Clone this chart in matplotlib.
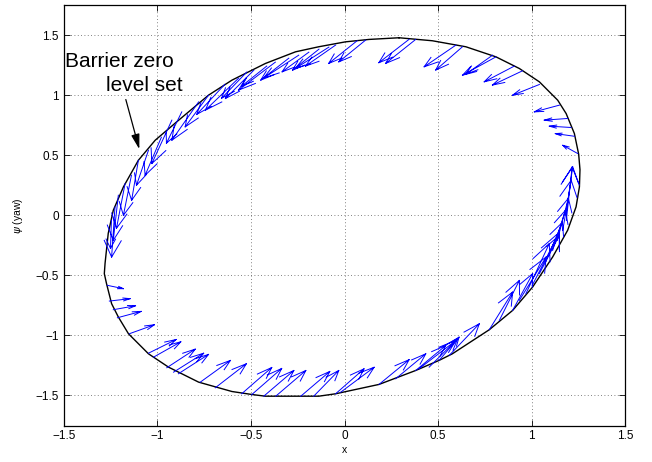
import matplotlib
matplotlib.use("Agg")
import matplotlib.pyplot as plt
import numpy as np

plt.rcParams["font.family"] = ["Liberation Sans", "DejaVu Sans"]

# barrier zero level set (counter-clockwise from the top)
level_x = [0.291, 0.130, 0.005, -0.138, -0.262, -0.423, -0.602, -0.727, -0.888, -1.012,
           -1.102, -1.182, -1.236, -1.263, -1.280, -1.284, -1.272, -1.245, -1.209, -1.155,
           -1.048, -0.941, -0.780, -0.602, -0.495, -0.423, -0.138, -0.048, 0.184, 0.380,
           0.505, 0.576, 0.773, 0.898, 1.005, 1.112, 1.192, 1.237, 1.255, 1.258,
           1.251, 1.228, 1.184, 1.139, 1.041, 0.934, 0.809, 0.648, 0.469, 0.291]
level_y = [1.478, 1.464, 1.444, 1.403, 1.361, 1.264, 1.125, 1.000, 0.790, 0.625,
           0.458, 0.236, 0.042, -0.150, -0.400, -0.486, -0.570, -0.736, -0.847, -0.986,
           -1.153, -1.264, -1.389, -1.467, -1.492, -1.506, -1.506, -1.486, -1.408, -1.292,
           -1.208, -1.153, -0.953, -0.792, -0.597, -0.347, -0.125, 0.070, 0.236, 0.380,
           0.508, 0.681, 0.847, 0.958, 1.111, 1.222, 1.319, 1.403, 1.453, 1.478]

# vector field samples on the boundary
qx = [-1.268, -1.257, -1.236, -1.214, -1.150, -1.048, -1.021, -0.950, -0.914, -0.888,
      -0.771, -0.691, -0.550, -0.497, -0.432, -0.368, -0.234, -0.165, -0.048, -0.021,
      0.184, 0.273, 0.380, 0.398, 0.452, 0.505, 0.559, 0.773, 0.827, 0.898,
      0.934, 0.969, 1.003, 1.041, 1.073, 1.112, 1.137, 1.166, 1.185, 1.184,
      1.246, 1.228, 1.210, 1.192, 1.148, 1.041, 0.951, 0.907, 0.809, 0.791,
      0.630, 0.595, 0.380, 0.344, 0.112, 0.067, -0.048, -0.084, -0.137, -0.191,
      -0.245, -0.298, -0.370, -0.416, -0.485, -0.523, -0.566, -0.640, -0.727, -0.780,
      -0.870, -0.923, -0.979, -1.048, -1.102, -1.139, -1.173, -1.209, -1.227, -1.246]
qy = [-0.583, -0.714, -0.786, -0.853, -0.986, -1.148, -1.181, -1.269, -1.306, -1.319,
      -1.389, -1.436, -1.486, -1.494, -1.506, -1.506, -1.506, -1.506, -1.486, -1.473,
      -1.408, -1.361, -1.292, -1.278, -1.264, -1.208, -1.167, -0.953, -0.875, -0.792,
      -0.708, -0.653, -0.583, -0.486, -0.392, -0.292, -0.208, -0.125, -0.042, 0.014,
      0.514, 0.658, 0.731, 0.806, 0.917, 1.089, 1.203, 1.242, 1.319, 1.333,
      1.403, 1.417, 1.464, 1.464, 1.458, 1.453, 1.417, 1.400, 1.383, 1.358,
      1.333, 1.308, 1.275, 1.242, 1.208, 1.192, 1.142, 1.090, 1.000, 0.944,
      0.861, 0.792, 0.650, 0.542, 0.458, 0.333, 0.264, 0.167, 0.069, -0.042]
qu = [0.086, 0.111, 0.119, 0.127, 0.134, 0.148, 0.146, 0.152, 0.161, 0.161,
      0.161, 0.166, 0.161, 0.161, 0.161, 0.161, 0.155, 0.134, 0.152, 0.179,
      0.161, 0.161, 0.161, 0.197, 0.152, 0.107, 0.161, 0.125, 0.107, 0.107,
      0.143, 0.125, 0.145, 0.107, 0.091, 0.068, 0.059, 0.045, 0.031, 0.035,
      -0.080, -0.102, -0.116, -0.125, -0.134, -0.143, -0.161, -0.161, -0.179, -0.143,
      -0.143, -0.170, -0.161, -0.161, -0.143, -0.152, -0.161, -0.179, -0.141, -0.143,
      -0.187, -0.150, -0.197, -0.134, -0.152, -0.134, -0.178, -0.150, -0.125, -0.143,
      -0.082, -0.107, -0.087, -0.064, -0.036, -0.043, -0.046, -0.027, -0.018, -0.005]
qv = [-0.028, 0.020, 0.033, 0.053, 0.075, 0.114, 0.128, 0.155, 0.158, 0.161,
      0.181, 0.200, 0.219, 0.219, 0.214, 0.214, 0.206, 0.214, 0.208, 0.208,
      0.206, 0.208, 0.208, 0.236, 0.236, 0.194, 0.264, 0.314, 0.333, 0.306,
      0.361, 0.417, 0.442, 0.319, 0.333, 0.333, 0.350, 0.417, 0.444, 0.389,
      0.069, 0.022, 0.011, -0.014, -0.056, -0.089, -0.119, -0.131, -0.153, -0.158,
      -0.194, -0.181, -0.200, -0.194, -0.181, -0.189, -0.175, -0.178, -0.175, -0.164,
      -0.190, -0.183, -0.233, -0.167, -0.236, -0.217, -0.267, -0.250, -0.264, -0.319,
      -0.261, -0.361, -0.317, -0.292, -0.333, -0.333, -0.372, -0.375, -0.417, -0.233]

ticks = [-1.5, -1, -0.5, 0, 0.5, 1, 1.5]


def quiver_lines(x, y, u, v, alpha=0.33, beta=0.33):
    # MATLAB-style open arrows: shaft plus two head strokes in data units
    x, y, u, v = (np.asarray(a, dtype=float) for a in (x, y, u, v))
    nan = np.full_like(x, np.nan)
    sx = np.column_stack([x, x + u, nan]).ravel()
    sy = np.column_stack([y, y + v, nan]).ravel()
    hx = np.column_stack([x + u - alpha * (u + beta * v), x + u,
                          x + u - alpha * (u - beta * v), nan]).ravel()
    hy = np.column_stack([y + v - alpha * (v - beta * u), y + v,
                          y + v - alpha * (v + beta * u), nan]).ravel()
    return np.concatenate([sx, hx]), np.concatenate([sy, hy])


fig = plt.figure(figsize=(6.52, 4.62), dpi=100)
ax = fig.add_axes([0.098, 0.079, 0.861, 0.910])

ax.plot(level_x, level_y, color="black", lw=1.0)
ax_, ay_ = quiver_lines(qx, qy, qu, qv)
ax.plot(ax_, ay_, color="#0000ff", lw=0.7)

ax.text(-1.494, 1.279, "Barrier zero", fontsize=15, va="center", ha="left")
ax.text(-1.273, 1.083, "level set", fontsize=15, va="center", ha="left")
ax.annotate("", xy=(-1.093, 0.528), xytext=(-1.173, 0.986),
            arrowprops=dict(arrowstyle="-|>,head_length=0.9,head_width=0.25",
                            color="black", lw=0.9))

ax.set_xlim(-1.5, 1.5)
ax.set_ylim(-1.75, 1.75)
ax.set_xticks(ticks)
ax.set_yticks(ticks)
ax.set_xticklabels(["\u22121.5", "\u22121", "\u22120.5", "0", "0.5", "1", "1.5"])
ax.set_yticklabels(["\u22121.5", "\u22121", "\u22120.5", "0", "0.5", "1", "1.5"])
ax.tick_params(direction="in", length=4, width=0.6, top=True, right=True, labelsize=8.5)
ax.grid(True, color="0.35", linestyle=(0, (1, 3)), linewidth=0.6)
for s in ax.spines.values():
    s.set_linewidth(0.9)
ax.set_xlabel("x", fontsize=7.5, labelpad=2)
ax.set_ylabel(r"$\psi$ (yaw)", fontsize=7.5, labelpad=8)

fig.savefig("out.png", dpi=100)
